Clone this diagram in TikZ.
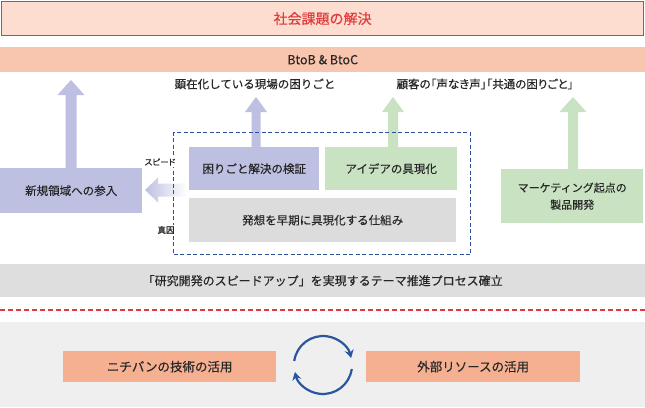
\documentclass[tikz,border=0pt]{standalone}
\usepackage{fontspec}
\setmainfont{Noto Sans CJK JP}[FakeBold=0.3]
\usetikzlibrary{calc,arrows.meta}
\definecolor{txt}{HTML}{262626}
\definecolor{redC}{HTML}{E23A3A}
\definecolor{topfill}{HTML}{FCDDD0}
\definecolor{btobfill}{HTML}{F8C5AE}
\definecolor{purpleC}{HTML}{BEC0E2}
\definecolor{greenC}{HTML}{C9E2C1}
\definecolor{grayC}{HTML}{DCDCDC}
\definecolor{barC}{HTML}{DEDEDE}
\definecolor{bottomC}{HTML}{EFEFEF}
\definecolor{orangeC}{HTML}{F5B092}
\definecolor{blueC}{HTML}{2E4E9C}
\definecolor{arcC}{HTML}{2A56A0}
\newcommand{\uparrowblk}[5]{% color, tip, base node anchor, shaft half, head half
  \fill[#1] let \p1=(#3), \p2=(#2) in
    (\x2-#4pt,\y1) -- (\x2-#4pt,\y2-15pt) -- (\x2-#5pt,\y2-15pt) -- (\x2,\y2)
    -- (\x2+#5pt,\y2-15pt) -- (\x2+#4pt,\y2-15pt) -- (\x2+#4pt,\y1) -- cycle;}
\begin{document}
\begin{tikzpicture}[x=1pt,y=-1pt,
  box/.style={inner sep=0pt, anchor=north west, text=txt, align=center,
    font=\fontsize{11.5}{15}\selectfont},
  lbl/.style={inner sep=0pt, text=txt, font=\fontsize{11.5}{14}\selectfont},
  small/.style={inner sep=1pt, fill=white, text=txt, font=\fontsize{8.5}{10}\selectfont\addfontfeatures{RawFeature=+palt}},
  ]
\useasboundingbox (0,0) rectangle (645,407);
\fill[white] (0,0) rectangle (645,407);
% top
\node[box, fill=topfill, draw=redC, line width=1.2pt, minimum width=642pt, minimum height=34pt,
  text=redC, font=\fontsize{14}{16}\selectfont] (top) at (1,1) {社会課題の解決};
\node[box, fill=btobfill, minimum width=645pt, minimum height=25pt,
  font=\fontsize{12.5}{15}\selectfont] (btob) at (0,47) {BtoB \& BtoC};
\node[lbl] (lab1) at (255,84) {顕在化している現場の困りごと};
\node[lbl, font=\fontsize{11.5}{14}\selectfont\addfontfeatures{RawFeature=+palt}] (lab2) at (485,84) {顧客の「声なき声」「共通の困りごと」};
% boxes
\node[box, fill=purpleC, minimum width=142pt, minimum height=45pt] (nk) at (0,168) {新規領域への参入};
\node[box, fill=purpleC, minimum width=130pt, minimum height=43pt] (kv) at (189,147) {困りごと解決の検証};
\node[box, fill=greenC, minimum width=132pt, minimum height=43pt] (ia) at (325,147) {アイデアの具現化};
\node[box, fill=greenC, minimum width=142pt, minimum height=54pt, font=\fontsize{11}{17}\selectfont] (mk) at (501,169) {マーケティング起点の\\製品開発};
\node[box, fill=grayC, minimum width=267pt, minimum height=44pt] (hs) at (189,198) {発想を早期に具現化する仕組み};
% up arrows
\coordinate (t1) at (71,80);
\coordinate (t2) at (256,97);
\coordinate (t3) at (393,97);
\coordinate (t4) at (573,97);
\uparrowblk{purpleC}{t1}{nk.north}{5.5}{13.5}
\uparrowblk{purpleC}{t2}{kv.north}{4.5}{11}
\uparrowblk{greenC}{t3}{ia.north}{5}{11}
\uparrowblk{greenC}{t4}{mk.north}{5}{13.5}
% fade arrow
\shade[left color=purpleC, right color=white]
  (187,183.5) -- (158,183.5) -- (158,177.5) -- (145,190) -- (158,202.5) -- (158,196.5) -- (187,196.5) -- cycle;
% dashed frame
\node[inner sep=0pt, anchor=north west, draw=blueC, line width=1.3pt, dash pattern=on 4pt off 2.5pt,
  minimum width=297pt, minimum height=122pt] (dr) at (173,132) {};
\node[small] (sp) at (160,162) {スピード};
\node[small] (sy) at (166,230) {真因};
% bar
\node[box, fill=barC, minimum width=645pt, minimum height=33pt, font=\fontsize{12}{15}\selectfont] (bar) at (0,264)
  {「研究開発のスピードアップ」を実現するテーマ推進プロセス確立};
% red dashed line
\coordinate (rl) at (0,310);
\coordinate (rr) at (645,310);
\draw[redC, line width=1.3pt, dash pattern=on 5pt off 3pt] (rl) -- (rr);
% bottom
\node[box, fill=bottomC, minimum width=645pt, minimum height=85pt] (bot) at (0,322) {};
\node[box, fill=orangeC, minimum width=213pt, minimum height=31pt, font=\fontsize{12.5}{15}\selectfont] (nb) at (63,351) {ニチバンの技術の活用};
\node[box, fill=orangeC, minimum width=214pt, minimum height=31pt, font=\fontsize{12.5}{15}\selectfont] (gb) at (366,351) {外部リソースの活用};
\coordinate (cc) at (323,365);
\draw[arcC, line width=2.2pt, -{Stealth[length=8pt,width=9pt]}]
  ([shift={(-172:29)}]cc) arc[start angle=-172, end angle=-14, radius=29];
\draw[arcC, line width=2.2pt, -{Stealth[length=8pt,width=9pt]}]
  ([shift={(8:29)}]cc) arc[start angle=8, end angle=166, radius=29];
\end{tikzpicture}
\end{document}
